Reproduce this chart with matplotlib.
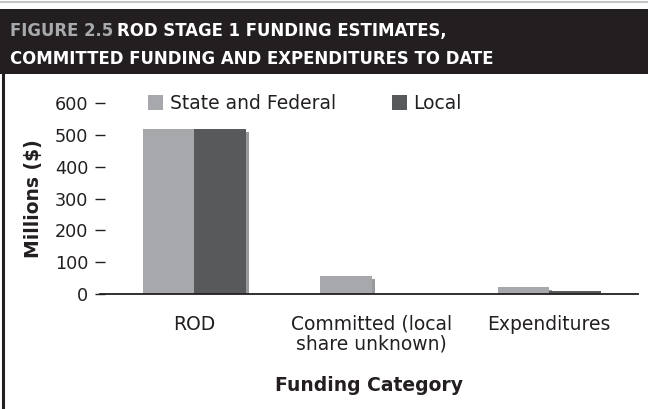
import numpy as np
import matplotlib.pyplot as plt
from matplotlib import font_manager
from matplotlib.font_manager import FontProperties
from matplotlib.patches import Rectangle
from matplotlib.lines import Line2D

categories = ['ROD', 'Committed (local\nshare unknown)', 'Expenditures']
state_federal = [518, 57, 22]
local = [518, 0, 9]
series_names = ['State and Federal', 'Local']

STATE_COLOR = '#a6a8ab'
LOCAL_COLOR = '#58595b'
SHADOW_COLOR = '#97999c'
INK = '#231f20'

W, H = 648, 409
fig = plt.figure(figsize=(W / 100, H / 100), dpi=100)
fig.patch.set_facecolor('white')

def fx(px):
    return px / W

def fy(py):
    return 1 - py / H

# a narrow bold face for the header if one is installed
narrow = [f for f in font_manager.fontManager.ttflist
          if (f.stretch in ('condensed', 'semi-condensed', 'extra-condensed')
              or 'Narrow' in f.name or 'Condensed' in f.name)
          and f.weight in ('bold', 700, 'demibold', 600)]
if narrow:
    head_prop = FontProperties(fname=narrow[0].fname)
else:
    head_prop = FontProperties(family='DejaVu Sans', weight='bold')

# header band and page frame
fig.add_artist(Line2D([0, 1], [fy(1.5), fy(1.5)], color='#c4c4c4', lw=1.5))
fig.add_artist(Rectangle((0, fy(74)), 1, fy(9.5) - fy(74), color=INK, lw=0))
fig.add_artist(Line2D([fx(3), fx(3)], [0, fy(74)], color=INK, lw=2.2))

head_size = 15
probe = fig.text(0, 0, 'FIGURE 2.5 ROD STAGE 1 FUNDING ESTIMATES,',
                 fontproperties=head_prop, size=head_size)
fig.canvas.draw()
width = probe.get_window_extent().width
probe.remove()
head_size = min(head_size, head_size * 440 / width)

t1 = fig.text(fx(10), fy(36), 'FIGURE 2.5', color='#a7a9ac', va='baseline',
              fontproperties=head_prop, size=head_size)
fig.canvas.draw()
bb = t1.get_window_extent()
fig.text(fx(bb.x1 + 4), fy(36), 'ROD STAGE 1 FUNDING ESTIMATES,', color='white',
         va='baseline', fontproperties=head_prop, size=head_size)
fig.text(fx(10), fy(64), 'COMMITTED FUNDING AND EXPENDITURES TO DATE', color='white',
         va='baseline', fontproperties=head_prop, size=head_size)

ax = fig.add_axes([fx(100), fy(294), fx(638) - fx(100), fy(103) - fy(294)])

x = np.arange(len(categories))
w = 0.29
# thin depth shadow on the right side of each bar
dx = 3 / 177.5
dy = 9.4
for off, vals in [(-w / 2, state_federal), (w / 2, local)]:
    hs = [max(v - dy, 0) for v in vals]
    ax.bar(x + off + dx, hs, w, color=SHADOW_COLOR, zorder=1, linewidth=0)
ax.bar(x - w / 2, state_federal, w, color=STATE_COLOR, label=series_names[0], zorder=2, linewidth=0)
ax.bar(x + w / 2, local, w, color=LOCAL_COLOR, label=series_names[1], zorder=3, linewidth=0)

ax.set_xlim(-0.532, 2.5)
ax.set_ylim(0, 600)
ax.set_yticks(range(0, 601, 100))
ax.set_xticks(x)
ax.set_xticklabels(categories, fontsize=13.5, color=INK, linespacing=1.05)
ax.tick_params(axis='x', length=0, pad=15)
ax.tick_params(axis='y', direction='inout', length=7, width=1, color=INK,
               labelsize=12.7, labelcolor=INK, pad=5)

for side in ['top', 'right', 'left']:
    ax.spines[side].set_visible(False)
ax.spines['bottom'].set_color(INK)
ax.spines['bottom'].set_linewidth(1.3)
ax.spines['bottom'].set_zorder(4)

ax.set_ylabel('Millions ($)', fontsize=13.5, fontweight='bold', color=INK, va='center')
ax.yaxis.set_label_coords((33 - 100) / 538, 0.5)
ax.set_xlabel('Funding Category', fontsize=13.5, fontweight='bold', color=INK, va='top')
ax.xaxis.set_label_coords(0.5, (294 - 376) / 191)

ax.legend(ncol=2, loc='upper left', bbox_to_anchor=(fx(148), fy(94)),
          bbox_transform=fig.transFigure, frameon=False, fontsize=13.5,
          handlelength=0.8, handleheight=0.8, handletextpad=0.35,
          columnspacing=3.0, borderpad=0, borderaxespad=0, labelcolor=INK)

fig.savefig('out.png', dpi=100)
